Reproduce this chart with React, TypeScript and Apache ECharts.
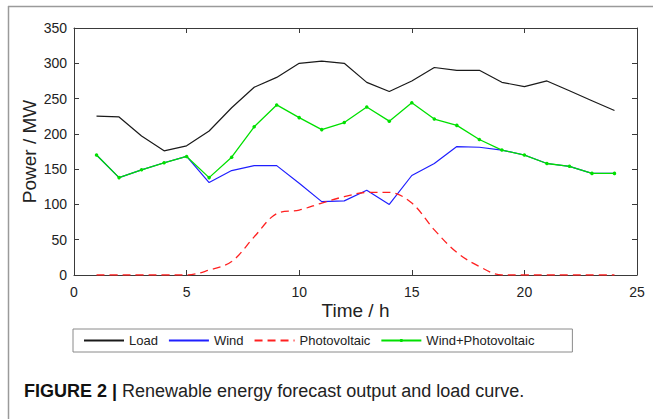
import React, { useEffect, useRef } from "react";
import * as echarts from "echarts";

const hours = [1, 2, 3, 4, 5, 6, 7, 8, 9, 10, 11, 12, 13, 14, 15, 16, 17, 18, 19, 20, 21, 22, 23, 24];
const load = [225, 224, 197, 176, 183, 204, 237, 266, 280, 300, 303, 300, 273, 260, 275, 294, 290, 290, 273, 267, 275, 261, 247, 233];
const wind = [170, 138, 149, 159, 168, 131, 148, 155, 155, 130, 104, 105, 120, 100, 141, 158, 182, 181, 177, 170, 158, 154, 144, 144];
const pv = [0, 0, 0, 0, 0, 7, 19, 54, 87, 92, 102, 111, 117, 117, 102, 64, 32, 12, 0, 0, 0, 0, 0, 0];
const windPv = [170, 138, 149, 159, 168, 138, 167, 210, 241, 223, 206, 216, 238, 218, 244, 221, 212, 192, 177, 170, 158, 154, 144, 144];
const yTicks = [0, 50, 100, 150, 200, 250, 300, 350];
const xTicks = [0, 5, 10, 15, 20, 25];

const pair = (ys: number[]) => hours.map((h, i) => [h, ys[i]]);

export default function App() {
  const ref = useRef<HTMLDivElement>(null);
  useEffect(() => {
    if (!ref.current) return;
    const chart = echarts.init(ref.current, undefined, { renderer: "svg" });
    const font = "Liberation Sans, Arial, sans-serif";
    const axisLineStyle = { color: "#3a3a3a", width: 1 };
    const tick = { show: true, inside: true, length: 5, lineStyle: axisLineStyle };
    const line = { show: true, onZero: false, lineStyle: axisLineStyle };
    chart.setOption({
      animation: false,
      backgroundColor: "#ffffff",
      textStyle: { fontFamily: font },
      grid: { left: 74, right: 16, top: 28, bottom: 144, containLabel: false },
      xAxis: [
        {
          type: "value",
          min: xTicks[0],
          max: xTicks[xTicks.length - 1],
          interval: 5,
          position: "bottom",
          name: "Time / h",
          nameLocation: "middle",
          nameGap: 26,
          nameMoveOverlap: false,
          nameTextStyle: { fontSize: 19, color: "#222", fontFamily: font },
          axisLine: line,
          axisTick: tick,
          axisLabel: { fontSize: 14, color: "#222", margin: 10, fontFamily: font },
          splitLine: { show: false },
        },
        {
          type: "value",
          min: xTicks[0],
          max: xTicks[xTicks.length - 1],
          interval: 5,
          position: "top",
          axisLine: line,
          axisTick: tick,
          axisLabel: { show: false },
          splitLine: { show: false },
        },
      ],
      yAxis: [
        {
          type: "value",
          min: yTicks[0],
          max: yTicks[yTicks.length - 1],
          interval: 50,
          position: "left",
          name: "Power / MW",
          nameLocation: "middle",
          nameGap: 35,
          nameMoveOverlap: false,
          nameTextStyle: { fontSize: 19, color: "#222", fontFamily: font },
          axisLine: line,
          axisTick: tick,
          axisLabel: { fontSize: 14, color: "#222", margin: 7, fontFamily: font },
          splitLine: { show: false },
        },
        {
          type: "value",
          min: yTicks[0],
          max: yTicks[yTicks.length - 1],
          interval: 50,
          position: "right",
          axisLine: line,
          axisTick: tick,
          axisLabel: { show: false },
          splitLine: { show: false },
        },
      ],
      legend: {
        left: 73,
        top: 329,
        orient: "horizontal",
        padding: [5, 38, 5, 10],
        itemGap: 10,
        itemWidth: 40,
        itemHeight: 4,
        borderColor: "#8a8a8a",
        borderWidth: 1,
        backgroundColor: "#ffffff",
        textStyle: { fontSize: 13, color: "#222", fontFamily: font },
        data: [
          { name: "Load", itemStyle: { opacity: 0 } },
          { name: "Wind", itemStyle: { opacity: 0 } },
          { name: "Photovoltaic", itemStyle: { opacity: 0 } },
          { name: "Wind+Photovoltaic" },
        ],
      },
      series: [
        {
          name: "Load",
          type: "line",
          data: pair(load),
          symbol: "none",
          lineStyle: { color: "#1a1a1a", width: 1.2 },
          itemStyle: { color: "#1a1a1a" },
        },
        {
          name: "Wind",
          type: "line",
          data: pair(wind),
          symbol: "none",
          lineStyle: { color: "#1f1fff", width: 1.2 },
          itemStyle: { color: "#1f1fff" },
        },
        {
          name: "Photovoltaic",
          type: "line",
          data: pair(pv),
          symbol: "none",
          smooth: 0.35,
          lineStyle: { color: "#ff2020", width: 1.3, type: [8, 5] },
          itemStyle: { color: "#ff2020" },
        },
        {
          name: "Wind+Photovoltaic",
          type: "line",
          data: pair(windPv),
          symbol: "circle",
          symbolSize: 3.5,
          lineStyle: { color: "#00e000", width: 1.3 },
          itemStyle: { color: "#00e000" },
        },
      ],
      graphic: [
        {
          type: "line",
          shape: { x1: 8, y1: 6.5, x2: 653, y2: 6.5 },
          style: { stroke: "#9a9a9a", lineWidth: 1.5 },
        },
        {
          type: "line",
          shape: { x1: 8.5, y1: 6, x2: 8.5, y2: 419 },
          style: { stroke: "#9a9a9a", lineWidth: 1.5 },
        },
        {
          type: "text",
          left: 24,
          top: 382,
          style: {
            text: "{b|FIGURE 2 |} Renewable energy forecast output and load curve.",
            fontSize: 18,
            fill: "#222",
            fontFamily: font,
            rich: {
              b: { fontWeight: "bold", fontSize: 18, fill: "#111", fontFamily: font },
            },
          },
        },
      ],
    });
    return () => chart.dispose();
  }, []);
  return (
    <div
      ref={ref}
      style={{ width: 653, height: 419, position: "absolute", left: 0, top: 0 }}
    />
  );
}
